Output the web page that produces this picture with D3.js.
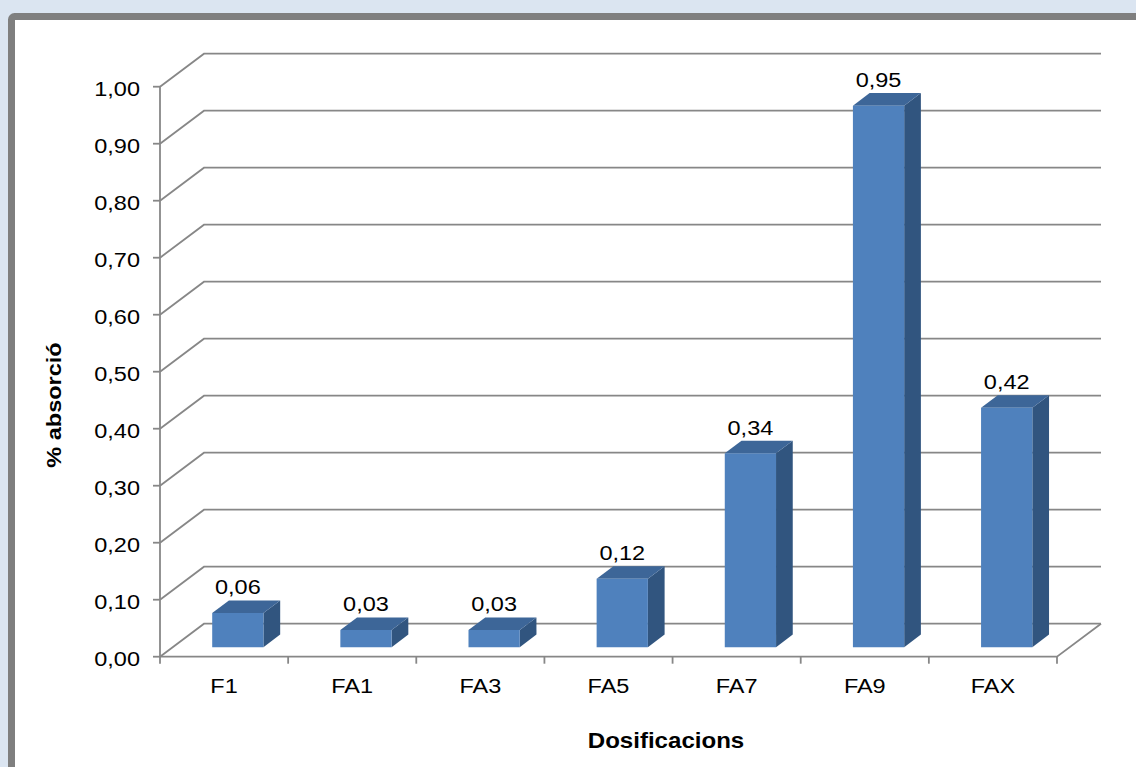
<!DOCTYPE html>
<html>
<head>
<meta charset="utf-8">
<script src="https://cdn.jsdelivr.net/npm/d3@7"></script>
<style>
  html, body { margin: 0; padding: 0; background: #dbe5f1; }
  svg { display: block; }
  text { font-family: "Liberation Sans", Arial, sans-serif; fill: #000; }
</style>
</head>
<body>
<svg id="chart" width="1136" height="767"></svg>
<script>
// Absorption percentage per dosage
const categories = ["F1", "FA1", "FA3", "FA5", "FA7", "FA9", "FAX"];
const values = [0.06, 0.03, 0.03, 0.12, 0.34, 0.95, 0.42];
const valueLabels = ["0,06", "0,03", "0,03", "0,12", "0,34", "0,95", "0,42"];
const tickValues = [0, 0.1, 0.2, 0.3, 0.4, 0.5, 0.6, 0.7, 0.8, 0.9, 1.0];
const yTitle = "% absorció";
const xTitle = "Dosificacions";

const svg = d3.select("#chart");
const W = 1136, H = 767;

// page background and framed panel
svg.append("rect").attr("width", W).attr("height", H).attr("fill", "#dbe5f1");
svg.append("rect")
  .attr("x", 11.5).attr("y", 16.5).attr("width", W + 20).attr("height", H + 20)
  .attr("rx", 3).attr("fill", "#fff").attr("stroke", "#7f7f7f").attr("stroke-width", 7);

// 3D projection: depth 0 = front plane, depth 1 = back wall
const DX = 44, DY = -33;
const x = d3.scaleBand().domain(categories).range([160, 1057]).paddingInner(0.6).paddingOuter(0.3);
const xEdge = d3.scaleBand().domain(categories).range([160, 1057]).padding(0);
const y = d3.scaleLinear().domain([0, 1]).range([656.7, 86.7]);
const P = (px, v, z) => [px + z * DX, y(v) + z * DY];

const fmt = d3.format(".2f");
const comma = v => fmt(v).replace(".", ",");
const SX = 1.12;           // horizontal glyph stretch
const gridColor = "#878787";

const grid = svg.append("g").attr("fill", "none").attr("stroke", gridColor).attr("stroke-width", 1.8);

// back wall gridlines plus side-wall diagonals
tickValues.forEach(v => {
  const a = P(160, v, 0), b = P(160, v, 1), c = P(1057, v, 1);
  grid.append("path").attr("d", `M${a[0]},${a[1]}L${b[0]},${b[1]}L${c[0]},${c[1]}`);
});
// floor front edge and right edge
{
  const a = P(160, 0, 0), b = P(1057, 0, 0), c = P(1057, 0, 1);
  grid.append("path").attr("d", `M${a[0]},${a[1]}L${b[0]},${b[1]}L${c[0]},${c[1]}`);
}
// vertical value axis with ticks
grid.append("line").attr("x1", 160).attr("x2", 160).attr("y1", y(1)).attr("y2", y(0));
tickValues.forEach(v => {
  grid.append("line").attr("x1", 153).attr("x2", 160).attr("y1", y(v)).attr("y2", y(v));
});
// category axis ticks at band boundaries
const edges = categories.map(c => xEdge(c)).concat([1057]);
edges.forEach(e => {
  grid.append("line").attr("x1", e).attr("x2", e).attr("y1", y(0)).attr("y2", y(0) + 7);
});

// helper for stretched text
function label(parent, tx, ty, str, opts = {}) {
  const g = parent.append("g").attr("transform", `translate(${tx},${ty})${opts.rotate ? " rotate(" + opts.rotate + ")" : ""}`);
  return g.append("text")
    .attr("transform", `scale(${SX},1)`)
    .attr("text-anchor", opts.anchor || "middle")
    .attr("font-size", opts.size || 21)
    .attr("font-weight", opts.bold ? "bold" : "normal")
    .text(str);
}

// value axis labels
tickValues.forEach(v => label(svg, 140, y(v) + 9.5, comma(v), { anchor: "end" }));

// category labels
categories.forEach(c => label(svg, x(c) + x.bandwidth() / 2, 693, c));

// 3D bars
const Z0 = 0.29, Z1 = 0.67;
const poly = pts => "M" + pts.map(p => p.join(",")).join("L") + "Z";
const bars = svg.append("g");
categories.forEach((c, i) => {
  const x0 = x(c) + 1, x1 = x(c) + x.bandwidth() + 1, v = values[i];
  const g = bars.append("g");
  // side face
  g.append("path").attr("fill", "#31557f")
    .attr("d", poly([P(x1, 0, Z0), P(x1, 0, Z1), P(x1, v, Z1), P(x1, v, Z0)]));
  // top face
  g.append("path").attr("fill", "#3d6698")
    .attr("d", poly([P(x0, v, Z0), P(x1, v, Z0), P(x1, v, Z1), P(x0, v, Z1)]));
  // front face
  g.append("path").attr("fill", "#4f81bd")
    .attr("d", poly([P(x0, 0, Z0), P(x1, 0, Z0), P(x1, v, Z0), P(x0, v, Z0)]));
  // value label above the bar
  const front = P((x0 + x1) / 2, v, Z0);
  const back = P(x0, v, Z1);
  label(svg, front[0], back[1] - 6, valueLabels[i]);
});

// axis titles
label(svg, 61, 405, yTitle, { bold: true, rotate: -90, size: 21 });
label(svg, 666, 748, xTitle, { bold: true, size: 21.5 });
</script>
</body>
</html>
